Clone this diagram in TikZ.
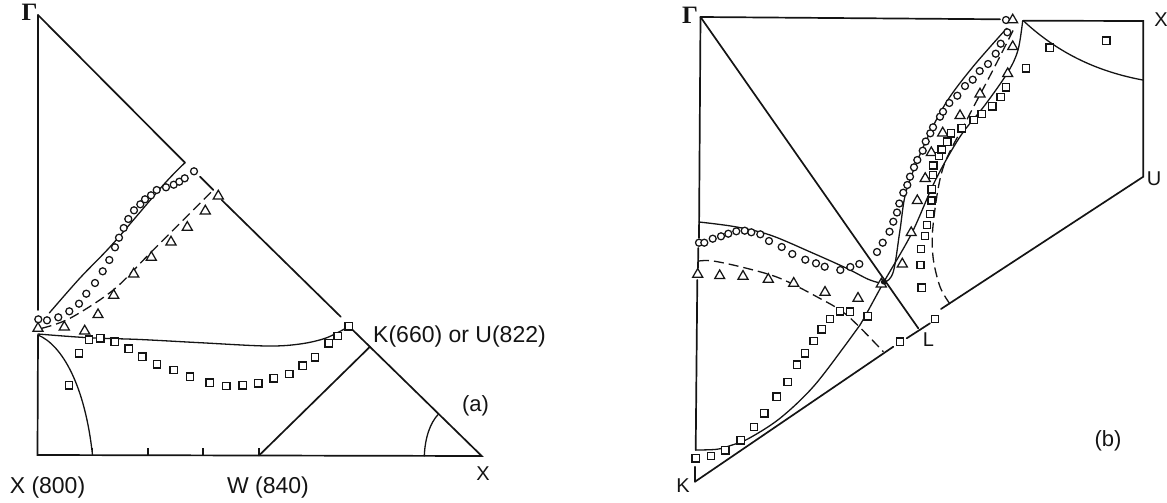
\documentclass[tikz,border=0pt]{standalone}
\usepackage{fontspec}
\setmainfont{Liberation Sans}
\newfontfamily\gamfont{Liberation Serif}
\usetikzlibrary{shapes.geometric}
\definecolor{ink}{gray}{0.08}
\tikzset{
  frame/.style={draw=ink,line width=1.7pt,line cap=round,line join=miter},
  thin curve/.style={draw=ink,line width=1.3pt,line cap=round},
  dash curve/.style={draw=ink,line width=1.3pt,dash pattern=on 10pt off 5pt},
  sq/.style={rectangle,draw=ink,line width=1.25pt,fill=white,minimum size=7.2pt,inner sep=0pt},
  ci/.style={circle,draw=ink,line width=1.25pt,fill=white,minimum size=7pt,inner sep=0pt},
  tr/.style={regular polygon,regular polygon sides=3,draw=ink,line width=1.25pt,fill=white,minimum size=11.5pt,inner sep=0pt},
  lab/.style={text=ink,inner sep=0pt,font=\fontsize{23}{23}\selectfont},
  one/.style={text=ink,inner sep=0pt,font=\fontsize{20}{20}\selectfont},
  sm/.style={text=ink,inner sep=0pt,font=\fontsize{22}{22}\selectfont},
  gam/.style={text=ink,inner sep=0pt,font=\gamfont\bfseries\fontsize{25}{25}\selectfont}
}
\begin{document}
\begin{tikzpicture}[x=1pt,y=-1pt]
\useasboundingbox (0,0) rectangle (1167,503);
% ---------- panel (a)
\coordinate (Ga) at (38,15);
\coordinate (Xa) at (37.5,455);
\coordinate (Xb) at (481.7,456);
\coordinate (Wa) at (259,455.5);
\coordinate (Ka) at (370,346.7);
\path[frame] (Ga) -- (38,310);
\path[frame] (38,335) -- (Xa) -- (Xb) -- (351.7,329);
\path[frame] (Ga) -- (185,162.7) (200,176.7) -- (213.3,190) (221.7,200) -- (340.7,316.7);
\path[frame] (Wa) -- (Ka);
\foreach \x in {92.5,148,203,259} \draw[ink,line width=1.1pt] (\x,448) -- (\x,455);
\path[thin curve] (38,335) .. controls (62,345) and (85,385) .. (92.5,455);
\path[thin curve] (438.3,414.3) .. controls (430,423) and (425,438) .. (424.3,456);
\path[thin curve] plot[smooth,tension=0.55] coordinates {(38,334) (88,337.7) (140,339.5) (200,342.7) (266.7,346) (300,344) (326,338) (348,327)};
\path[thin curve] plot[smooth,tension=0.55] coordinates {(49.3,313) (80,278) (113.3,243.3) (163.3,185) (185,162.7)};
\path[dash curve] plot[smooth,tension=0.55] coordinates {(41.7,328.3) (70,318.3) (113.3,290) (150,253.3) (213.3,190)};
\foreach \x/\y [count=\i] in {38.3/319.3,47/320.3,58.3/317.3,69.3/311.3,79/303.7,86.3/293.7,95/283,102.7/271.3,109.3/260,115/247.3,119/237.7,123.7/228,128.3/219,134/210.3,140.3/204.3,145/199.3,151/195.3,156.7/190,166/187.3,173.7/184.7,179.3/181.7,184.7/178.3,194/171.3}
  \node[ci] (ac\i) at (\x,\y) {};
\foreach \x/\y [count=\i] in {38/328.3,64.3/327,84.7/331,98/314.7,113.7/295.3,133.7/274,151.3/257.3,171/242,187.3/227.3,205.3/211,218.3/196}
  \node[tr] (at\i) at (\x,\y) {};
\foreach \x/\y [count=\i] in {69/385.3,79/353.3,89/339.7,100.3/338.3,114.7/341.7,128.7/348.7,142.3/356.7,157/364.3,173.7/370,190/376.7,209.7/382.7,226.3/386,242.7/385.3,258.3/383.3,273.7/378.3,289.3/374,302.7/365.7,315/357.3,328.7/343.3,337.7/336,348.7/326.3}
  \node[sq] (as\i) at (\x,\y) {};
\node[gam] (la1) at (29.5,12.5) {Γ};
\node[lab] (la2) at (47.5,488) {X (800)};
\node[lab] (la3) at (268,488) {W (840)};
\node[one] (la4) at (483,474) {X};
\node[lab] (la5) at (459.5,337) {K(660) or U(822)};
\node[sm] (la6) at (475.5,406) {(a)};
% ---------- panel (b)
\coordinate (Gb) at (700.5,17);
\coordinate (Kb) at (695,481.7);
\coordinate (Lb) at (918.3,328.3);
\coordinate (Ub) at (1143.3,176.7);
\coordinate (Xc) at (1143.3,21);
\path[frame] (Gb) -- (1000,19.3) (1023.3,20.7) -- (Xc) -- (Ub) -- (941,309);
\path[frame] (Gb) -- (699,238) (698.3,248) -- (698,268) (697.3,280) -- (695.7,450) (695,466.7) -- (Kb);
\path[frame] (Gb) -- (Lb);
\path[frame] (930,323.3) -- (906.7,338.3) (893.3,346.7) -- (Kb);
\path[thin curve] plot[smooth,tension=0.55] coordinates {(699,222) (735,226.7) (770,235) (813.3,253.3) (846.7,268.3) (870,280) (884,282.3) (893.3,271.7) (900,230) (906.5,190) (925.7,141.5) (946.7,101.7) (973,66.7) (1006.7,28.3)};
\path[thin curve] plot[smooth,tension=0.55] coordinates {(695.7,450) (716.7,449.3) (730,445.7) (748.3,438.7) (780,418.3) (813.3,386.7) (846.7,343.3) (860,325) (884,281.7) (911.7,233.3) (935,181) (960,136.7) (985,105) (1008,72) (1018,50) (1022.7,20.7)};
\path[thin curve] (1023.3,20.7) .. controls (1060,55) and (1100,72) .. (1142.7,80);
\path[dash curve] plot[smooth,tension=0.55] coordinates {(699,261) (713.3,261) (746.7,268.3) (780,278.3) (816.7,296.7) (846.7,315) (883.3,351.7)};
\path[dash curve] plot[smooth,tension=0.55] coordinates {(950,304) (940,286.7) (933,256.7) (933.3,223) (943,168) (966.7,120) (993,70) (1015,26.7)};
\foreach \x/\y [count=\i] in {699/242.7,704.3/242.7,712.7/238.7,721/236.3,728.3/233.7,736.3/231.3,744.7/230.7,751.3/232.3,760.3/234.3,769/241,781.7/247,792.3/254,805.3/259.7,816/263.3,824.7/266.7,840.3/270,850.3/267,859.3/264,877/252,882.7/242.7,889.5/231.7,893.3/221.7,897/212.5,899.3/203.5,903.3/192.7,907.3/185,910/176.7,914/167.3,917.3/160,922.7/150.7,925.7/141.5,930.3/133.3,933/127.3,940/116.7,943/111.7,949.3/103,957.3/95.7,965/86,972.7/79.7,979.7/71,988/64,995.7/53.7,1000.7/43.7,1007.3/32.3,1006/20}
  \node[ci] (bc\i) at (\x,\y) {};
\foreach \x/\y [count=\i] in {697.7/274.3,719.7/275.7,743/276.3,768.3/279.3,793.7/283.3,825/292.3,858/298.3,881.3/284,902.3/264,911.2/232.7,917.3/200.7,925.2/178.5,931.3/152.7,942.7/133,960/115.7,980/94,1007.7/73.7,1012.7/46.7,1012.7/20}
  \node[tr] (bt\i) at (\x,\y) {};
\foreach \x/\y [count=\i] in {695.7/458.3,711/456,725.3/450.3,740.7/440.3,754/427,764.3/413.3,776.7/396.7,787.7/382,797/364.7,805/353.3,813.7/341,821.7/329.3,830/319,840/311.3,850/311.7,867.7/316.3,900/341.7,935/319,921.7/287.7,920.5/265,920.8/249.2,925/236,927.2/225,929.8/213.8,931.5/200.5,931.7/189.3,933/175,933.3/165.5,939/156.2,941.7/149.5,947.3/141.7,951/133.3,961.7/128.3,973.7/120,981.7/114,992.3/106.3,1000.7/97,1006/87.3,1026/68.3,1049.7/47.7,1106.3/40.7}
  \node[sq] (bs\i) at (\x,\y) {};
\fill[ink] (884,282) ellipse (3.2pt and 2.6pt);
\node[gam] (lb1) at (690,15) {Γ};
\node[one] (lb2) at (1161,20) {X};
\node[one] (lb3) at (1154,179) {U};
\node[one] (lb4) at (928.5,340) {L};
\node[one] (lb5) at (683,486) {K};
\node[sm] (lb6) at (1108,441) {(b)};
\end{tikzpicture}
\end{document}
